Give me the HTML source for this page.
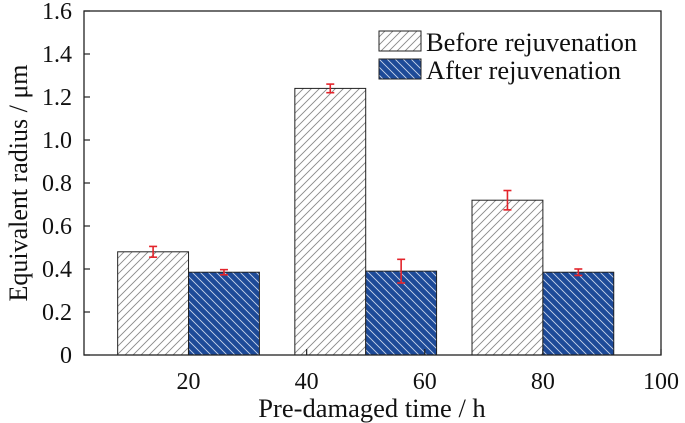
<!DOCTYPE html>
<html><head><meta charset="utf-8"><style>
html,body{margin:0;padding:0;background:#fff;}
svg{display:block;font-family:"Liberation Serif",serif;}
</style></head><body>
<svg id="chart" width="685" height="423" viewBox="0 0 685 423">
<defs>
<pattern id="hatchBefore" patternUnits="userSpaceOnUse" width="8" height="8">
<rect width="8" height="8" fill="#fff"/>
<path d="M-2,2 L2,-2 M0,8 L8,0 M6,10 L10,6" stroke="#888" stroke-width="0.9"/>
</pattern>
<pattern id="hatchAfter" patternUnits="userSpaceOnUse" width="8" height="8">
<rect width="8" height="8" fill="#1d4a98"/>
<path d="M-2,6 L2,10 M0,0 L8,8 M6,-2 L10,2" stroke="#c8d4ea" stroke-width="0.9"/>
</pattern>
</defs>
<g id="plot"></g>
</svg>
<script>
const categories = [20, 50, 80];
const beforeValues = [0.48, 1.24, 0.72];
const afterValues = [0.385, 0.39, 0.385];
const beforeErrors = [0.025, 0.02, 0.045];
const afterErrors = [0.012, 0.055, 0.015];
const yTicks = [0, 0.2, 0.4, 0.6, 0.8, 1.0, 1.2, 1.4, 1.6];
const xTicks = [20, 40, 60, 80, 100];

const L=84, R=661, T=11, B=355;
const xMin=2.3, xMax=100, yMax=1.6, barW=12;
const xs=v=>L+(v-xMin)/(xMax-xMin)*(R-L);
const ys=v=>B-v/yMax*(B-T);
const NS="http://www.w3.org/2000/svg";
const g=document.getElementById('plot');
function mk(tag,attrs,parent){const e=document.createElementNS(NS,tag);for(const k in attrs)e.setAttribute(k,attrs[k]);(parent||g).appendChild(e);return e;}

categories.forEach((c,i)=>{
  const x0=xs(c-barW), x1=xs(c), x2=xs(c+barW);
  let r=mk('rect',{x:x0,y:ys(beforeValues[i]),width:x1-x0,height:B-ys(beforeValues[i]),fill:'url(#hatchBefore)',stroke:'#222','stroke-width':1});
  
  
  r=mk('rect',{x:x1,y:ys(afterValues[i]),width:x2-x1,height:B-ys(afterValues[i]),fill:'url(#hatchAfter)',stroke:'#222','stroke-width':1});
  
  
  [[beforeValues[i],beforeErrors[i],(x0+x1)/2,'before'],[afterValues[i],afterErrors[i],(x1+x2)/2,'after']].forEach(([v,e,cx,n])=>{
    const eg=mk('g',{stroke:'#e3242b','stroke-width':1.6});
    
    
    mk('line',{x1:cx,x2:cx,y1:ys(v-e),y2:ys(v+e)},eg);
    mk('line',{x1:cx-4,x2:cx+4,y1:ys(v-e),y2:ys(v-e)},eg);
    mk('line',{x1:cx-4,x2:cx+4,y1:ys(v+e),y2:ys(v+e)},eg);
  });
});

const frame=mk('rect',{x:L,y:T,width:R-L,height:B-T,fill:'none',stroke:'#222','stroke-width':1.3});



yTicks.forEach(t=>{
  const y=ys(t);
  mk('line',{x1:L,x2:L+6,y1:y,y2:y,stroke:'#222','stroke-width':1.2});
  const tx=mk('text',{x:L-12,y:y+8,'text-anchor':'end','font-size':24,fill:'#111'});
  tx.textContent=(t===0)?'0':t.toFixed(1);
  
  
});
xTicks.forEach(t=>{
  const x=xs(t);
  mk('line',{x1:x,x2:x,y1:B,y2:B-6,stroke:'#222','stroke-width':1.2});
  const tx=mk('text',{x:x,y:389,'text-anchor':'middle','font-size':24,fill:'#111'});
  tx.textContent=t;
  
  
});
</script>
<script>
const svg=document.getElementById('chart');
const NS2="http://www.w3.org/2000/svg";
function add(tag,attrs,txt){const e=document.createElementNS(NS2,tag);for(const k in attrs)e.setAttribute(k,attrs[k]);if(txt)e.textContent=txt;svg.appendChild(e);return e;}
let e=add('text',{x:372,y:417,'text-anchor':'middle','font-size':26.5,fill:'#111'},'Pre-damaged time / h');


e=add('text',{x:0,y:0,transform:'translate(27,183) rotate(-90)','text-anchor':'middle','font-size':26,fill:'#111'},'Equivalent radius / μm');


e=add('rect',{x:379,y:31,width:42,height:20,fill:'url(#hatchBefore)',stroke:'#222','stroke-width':1});


e=add('text',{x:426,y:51,'font-size':26.5,fill:'#111'},'Before rejuvenation');


e=add('rect',{x:379,y:59,width:42,height:20,fill:'url(#hatchAfter)',stroke:'#222','stroke-width':1});


e=add('text',{x:426,y:79,'font-size':26.5,fill:'#111'},'After rejuvenation');


</script>
</body></html>
